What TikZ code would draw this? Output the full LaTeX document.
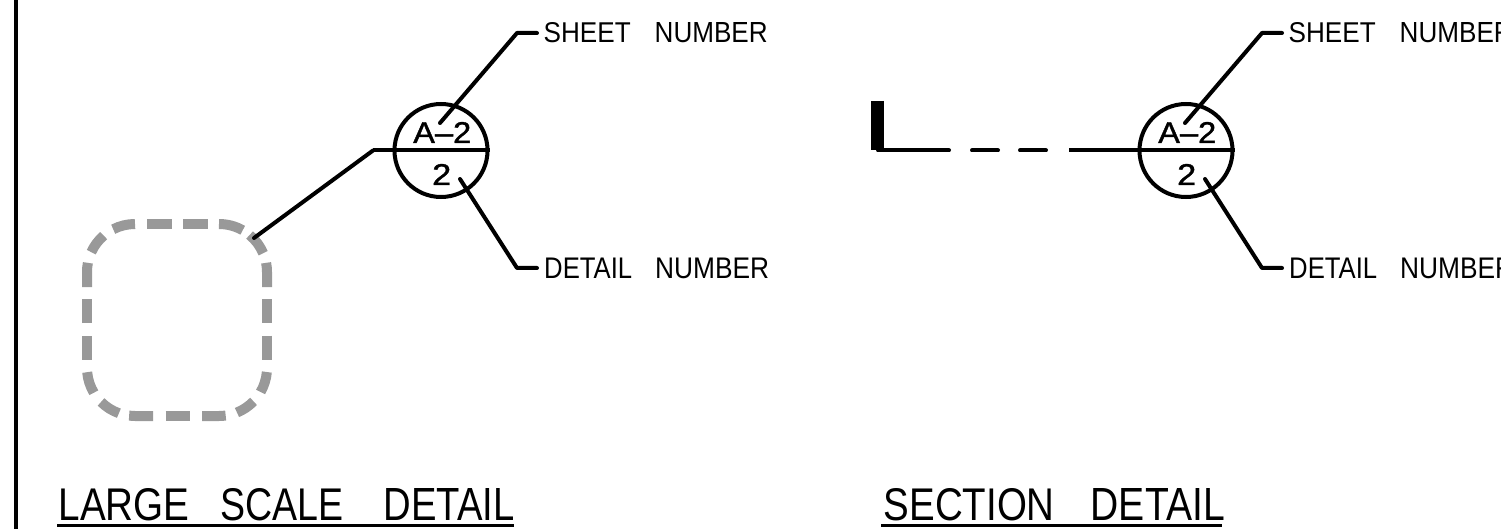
\documentclass[tikz,border=0pt]{standalone}
\usepackage{graphicx}
\usepackage{fontspec}
\setmainfont{Liberation Sans}
\newfontfamily\cadheavy[FakeBold=1.2]{Liberation Sans}
\newcommand{\cadtxt}[3]{\resizebox{#1pt}{#2pt}{#3}}
\newcommand{\wgap}[1]{\hspace{#1pt}}
\tikzset{
  ink/.style={line width=4pt,black,line cap=round,line join=round},
  bubble/.style={circle,draw=black,line width=4pt,minimum size=93pt,inner sep=0pt},
  lbl/.style={inner sep=0pt,anchor=base west},
  cloud/.style={line width=10pt,color=black!40}
}
\begin{document}
\begin{tikzpicture}[x=1pt,y=-1pt]
\clip (0,0) rectangle (1501,529);
% left border
\coordinate (bt) at (15.5,0);
\coordinate (bb) at (15.5,529);
\draw[line width=4pt] (bt) -- (bb);
% dashed detail outline: top
\draw[cloud] (147,224) -- (171.5,224);
\draw[cloud] (183,224) -- (208,224);
% top right corner
\draw[cloud] (219,224) arc[start angle=-90,end angle=-60.4,radius=48];
\draw[cloud] (219,272)+(-50.4:48) arc[start angle=-50.4,end angle=-23,radius=48];
\draw[cloud] (219,272)+(-11:48) arc[start angle=-11,end angle=0,radius=48] -- (267,287);
% right side
\draw[cloud] (267,299) -- (267,323);
\draw[cloud] (267,335.5) -- (267,359.5);
% bottom right corner
\draw[cloud] (219,368)+(4.8:48) arc[start angle=4.8,end angle=30,radius=48];
\draw[cloud] (219,368)+(44:48) arc[start angle=44,end angle=68,radius=48];
\draw[cloud] (219,368)+(82:48) arc[start angle=82,end angle=90,radius=48] -- (202,416);
% bottom
\draw[cloud] (165.5,416) -- (190,416);
\draw[cloud] (153,416) -- (135,416) arc[start angle=90,end angle=97,radius=48];
% bottom left corner
\draw[cloud] (135,368)+(109.6:48) arc[start angle=109.6,end angle=135,radius=48];
\draw[cloud] (135,368)+(149:48) arc[start angle=149,end angle=175,radius=48];
% left side
\draw[cloud] (87,359.5) -- (87,335.5);
\draw[cloud] (87,323) -- (87,299);
\draw[cloud] (87,287) -- (87,272) arc[start angle=180,end angle=191,radius=48];
% top left corner
\draw[cloud] (135,272)+(204.4:48) arc[start angle=204.4,end angle=229.3,radius=48];
\draw[cloud] (135,272)+(243:48) arc[start angle=243,end angle=270,radius=48];
% left bubble
\node[bubble] (b1) at (441,150.5) {};
\coordinate (k1) at (373,150.5);
\coordinate (c1) at (254,238);
\draw[ink] (c1) -- (k1);
\draw[ink,line cap=butt] (k1) -- (b1.east);
\coordinate (s1) at (440,123);
\coordinate (s1a) at (517,33);
\coordinate (s1b) at (537,33);
\draw[ink] (s1) -- (s1a) -- (s1b);
\coordinate (d1) at (460,179);
\coordinate (d1a) at (517,268);
\coordinate (d1b) at (537,268);
\draw[ink] (d1) -- (d1a) -- (d1b);
\node[lbl] (a1) at (413,143) {\cadtxt{58}{21}{\cadheavy A\textendash 2}};
\node[lbl] (n1) at (432,185) {\cadtxt{19}{21}{\cadheavy 2}};
\node[lbl] (t1) at (543.5,43) {\cadtxt{87}{20}{SHEET}\wgap{24}\cadtxt{113}{20}{NUMBER}};
\node[lbl] (t2) at (544,278.5) {\cadtxt{88}{20.5}{DETAIL}\wgap{23}\cadtxt{114}{20.5}{NUMBER}};
% right bubble
\node[bubble] (b2) at (1186,150.5) {};
\coordinate (lt) at (877.5,101);
\coordinate (lb) at (877.5,150);
\draw[line width=13pt,line join=round] (lt) -- (lb);
\coordinate (l0) at (878,150.5);
\coordinate (l1) at (949,150.5);
\coordinate (l2) at (972,150.5);
\coordinate (l3) at (998,150.5);
\coordinate (l4) at (1020,150.5);
\coordinate (l5) at (1046,150.5);
\coordinate (l6) at (1069,150.5);
\draw[ink] (l0) -- (l1);
\draw[ink] (l2) -- (l3);
\draw[ink] (l4) -- (l5);
\draw[ink,line cap=butt] (l6) -- (b2.east);
\coordinate (s2) at (1185,123);
\coordinate (s2a) at (1262,33);
\coordinate (s2b) at (1282,33);
\draw[ink] (s2) -- (s2a) -- (s2b);
\coordinate (d2) at (1205,179);
\coordinate (d2a) at (1262,268);
\coordinate (d2b) at (1282,268);
\draw[ink] (d2) -- (d2a) -- (d2b);
\node[lbl] (a2) at (1158,143) {\cadtxt{58}{21}{\cadheavy A\textendash 2}};
\node[lbl] (n2) at (1177,185) {\cadtxt{19}{21}{\cadheavy 2}};
\node[lbl] (t3) at (1288.5,43) {\cadtxt{87}{20}{SHEET}\wgap{24}\cadtxt{113}{20}{NUMBER}};
\node[lbl] (t4) at (1289,278.5) {\cadtxt{88}{20.5}{DETAIL}\wgap{23}\cadtxt{114}{20.5}{NUMBER}};
% titles
\node[lbl] (t5) at (58.5,520.5) {\cadtxt{131}{32}{LARGE}\wgap{31}\cadtxt{123}{32}{SCALE}\wgap{40}\cadtxt{131}{32}{DETAIL}};
\coordinate (u1) at (57,525);
\coordinate (u2) at (514,525);
\draw[line width=3pt] (u1) -- (u2);
\node[lbl] (t6) at (883.5,520.5) {\cadtxt{171}{32}{SECTION}\wgap{36}\cadtxt{134}{32}{DETAIL}};
\coordinate (u3) at (881,525);
\coordinate (u4) at (1222,525);
\draw[line width=3pt] (u3) -- (u4);
\end{tikzpicture}
\end{document}
